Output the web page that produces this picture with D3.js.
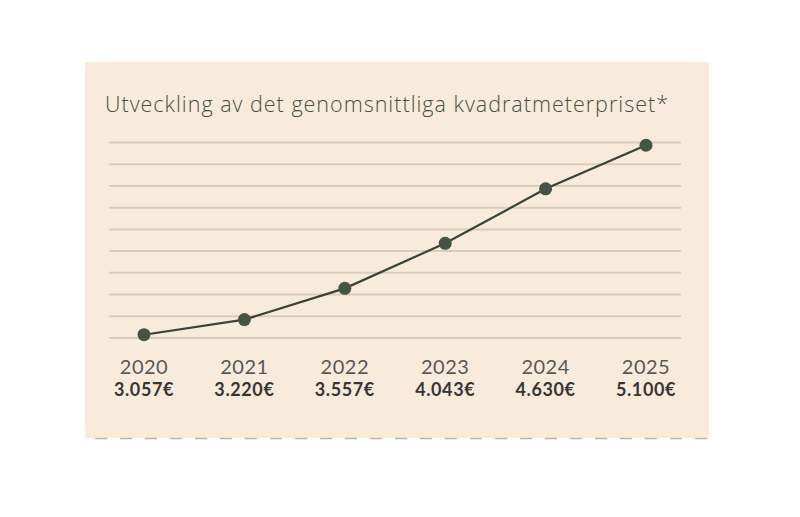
<!DOCTYPE html>
<html>
<head>
<meta charset="utf-8">
<script src="https://cdn.jsdelivr.net/npm/d3@7"></script>
<style>
  body { margin: 0; background: #fff; }
  svg { display: block; }
</style>
</head>
<body>
<script>
// data
var years = ["2020", "2021", "2022", "2023", "2024", "2025"];
var prices = [3057, 3220, 3557, 4043, 4630, 5100];
var priceLabels = ["3.057€", "3.220€", "3.557€", "4.043€", "4.630€", "5.100€"];
var gridCount = 10;

var W = 800, H = 517;

var svg = d3.select('body')
  .append('svg')
  .attr('width', W)
  .attr('height', H);

// beige panel
svg.append('rect')
  .attr('x', 85).attr('y', 62)
  .attr('width', 624).attr('height', 376)
  .style('fill', '#f9ebdb');

// dashed bottom edge
svg.append('line')
  .attr('x1', 95).attr('x2', 709)
  .attr('y1', 438.5).attr('y2', 438.5)
  .style('stroke', '#b9b3ad')
  .style('stroke-width', 1.5)
  .style('stroke-dasharray', '12,13');

svg.append('text')
  .attr('x', 105).attr('y', 112)
  .attr('textLength', 563)
  .attr('lengthAdjust', 'spacing')
  .style('font-family', 'Open Sans')
  .style('font-weight', 300)
  .style('font-size', '21.5px')
  .style('fill', '#465044')
  .text('Utveckling av det genomsnittliga kvadratmeterpriset*');

var x = d3.scalePoint()
  .domain(years)
  .range([144, 646]);

var y = d3.scaleLinear()
  .domain([3000, 5200])
  .range([340, 136]);

// grid lines (decorative, evenly spaced)
var gy = d3.scaleLinear()
  .domain([0, gridCount - 1])
  .range([142.5, 338]);

svg.selectAll('.grid')
  .data(d3.range(gridCount))
  .enter()
  .append('line')
  .classed('grid', true)
  .attr('x1', 109).attr('x2', 681)
  .attr('y1', function(d){ return gy(d); })
  .attr('y2', function(d){ return gy(d); })
  .style('stroke', '#d8ccbd')
  .style('stroke-width', 2);

var pts = years.map(function(yr, i){ return {year: yr, v: prices[i], label: priceLabels[i]}; });

var line = d3.line()
  .x(function(d){ return x(d.year); })
  .y(function(d){ return y(d.v); });

svg.append('path')
  .datum(pts)
  .attr('d', line)
  .style('fill', 'none')
  .style('stroke', '#3b4239')
  .style('stroke-width', 2.2);

svg.selectAll('.dot')
  .data(pts)
  .enter()
  .append('circle')
  .classed('dot', true)
  .attr('cx', function(d){ return x(d.year); })
  .attr('cy', function(d){ return y(d.v); })
  .attr('r', 6.5)
  .style('fill', '#465345');

// year labels
svg.selectAll('.yr')
  .data(pts)
  .enter()
  .append('text')
  .classed('yr', true)
  .attr('x', function(d){ return x(d.year); })
  .attr('y', 374)
  .attr('text-anchor', 'middle')
  .style('font-family', 'Lato')
  .style('font-weight', 400)
  .style('font-size', '20px')
  .style('letter-spacing', '0.5px')
  .style('fill', '#585858')
  .text(function(d){ return d.year; });

// price labels
svg.selectAll('.val')
  .data(pts)
  .enter()
  .append('text')
  .classed('val', true)
  .attr('x', function(d){ return x(d.year); })
  .attr('y', 396)
  .attr('text-anchor', 'middle')
  .style('font-family', 'Lato')
  .style('font-weight', 700)
  .style('font-size', '18px')
  .style('letter-spacing', '0.6px')
  .style('fill', '#363636')
  .text(function(d){ return d.label; });
</script>
</body>
</html>
